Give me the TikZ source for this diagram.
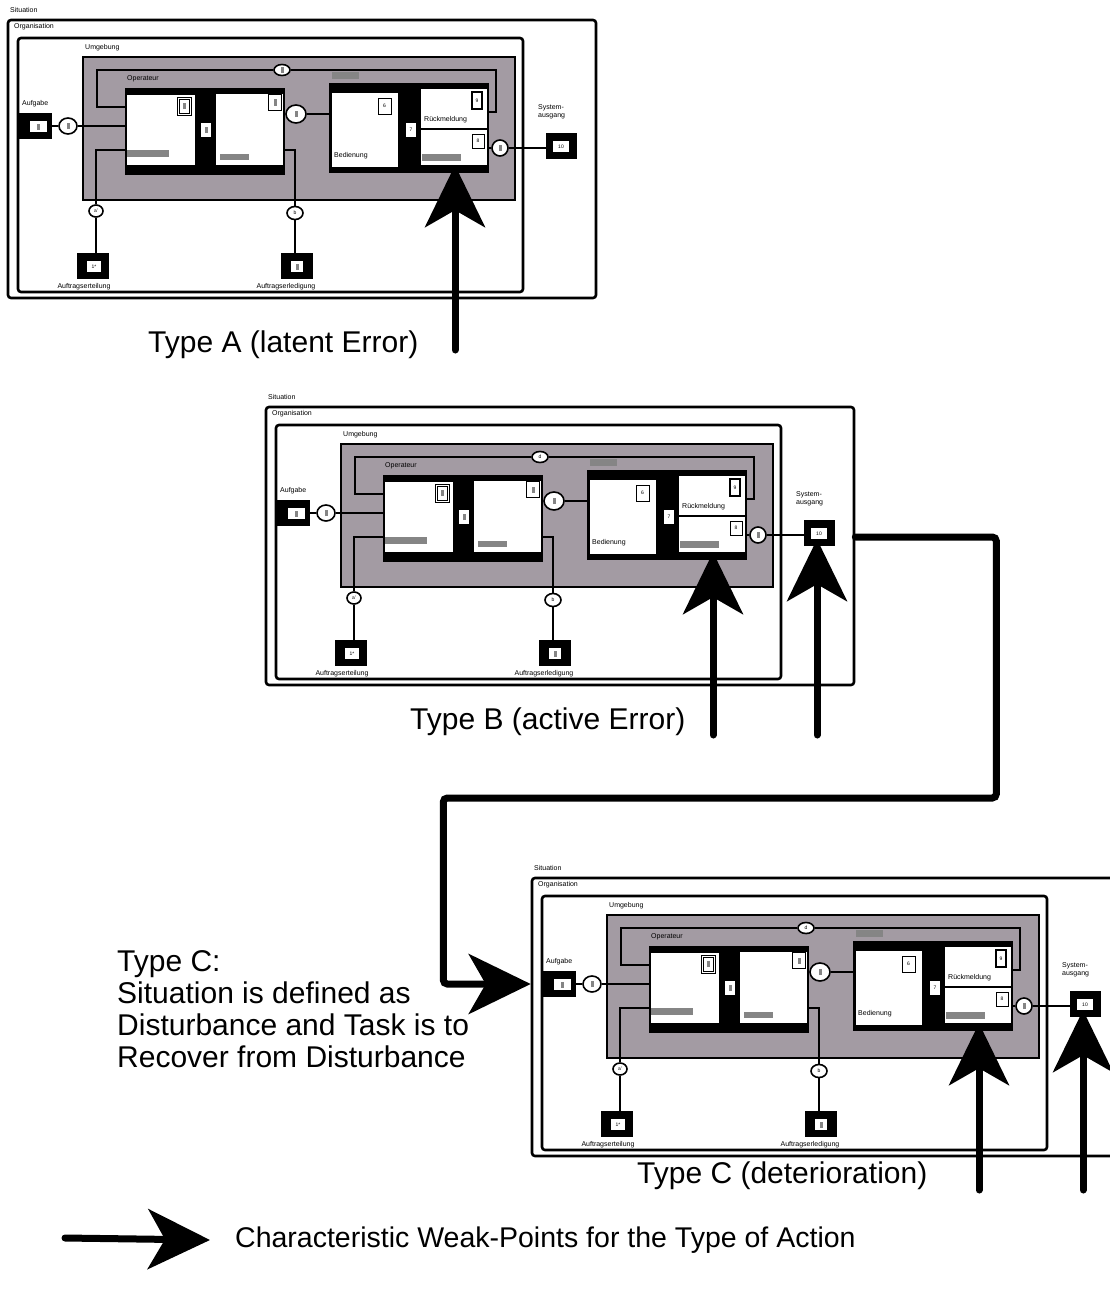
\documentclass[tikz,border=0pt]{standalone}
\usepackage{fontspec}
\setmainfont{Liberation Sans}
\usepackage{xcolor}
\usepackage{tikz}
\usetikzlibrary{arrows.meta, calc, shapes.geometric}
\definecolor{umgebung}{HTML}{A39BA3}
\definecolor{greekgrey}{HTML}{858585}
\newcommand{\smalltxt}{\fontsize{7}{8}\selectfont}
\newcommand{\numtxt}{\fontsize{5}{6}\selectfont}
\newcommand{\bigtxt}{\fontsize{30}{32}\selectfont}
\newcommand{\gm}{\textcolor{greekgrey}{\rule{3pt}{6pt}}}

% One situation panel (coordinates in pixels, y downwards)
\newcommand{\panel}[1]{%
  % Frames: Situation, Organisation, Umgebung
  \node[lbl] (lsit) at (10,10) {Situation};
  \node[frame, minimum width=588pt, minimum height=278pt] (sit) at (302,159) {};
  \node[lbl] (lorg) at (14,27) {Organisation};
  \node[frame, minimum width=505pt, minimum height=254pt] (org) at (270.5,165) {};
  \node[lbl] (lenv) at (85,48) {Umgebung};
  \node[env, minimum width=432pt, minimum height=143pt] (env) at (299,128.5) {};
  \node[bar, minimum width=27pt, minimum height=7pt] (envbar) at (345.5,75.5) {};
  % Operateur
  \node[lbl] (lop) at (127,79) {Operateur};
  \node[blk, minimum width=160pt, minimum height=87pt] (op) at (205,131.5) {};
  \node[wbox, minimum width=68pt, minimum height=70pt] (opl) at (161,130) {};
  \node[wbox, minimum width=67pt, minimum height=71pt] (opr) at (249.5,129.5) {};
  \node[wbox, minimum width=10pt, minimum height=14pt] (opm) at (206,130) {\gm};
  \node[tagbox, double, double distance=1pt, minimum width=12pt, minimum height=16pt] (iconl) at (184,106) {\gm};
  \node[tagbox, line width=1.6pt, minimum width=13pt, minimum height=16pt] (iconr) at (275,102.5) {\gm};
  \node[bar, minimum width=42pt, minimum height=7pt] (barl) at (148,153.5) {};
  \node[bar, minimum width=29pt, minimum height=6pt] (barr) at (234.5,156.5) {};
  % Bedienung / Rueckmeldung
  \node[blk, minimum width=160pt, minimum height=90pt] (bed) at (409,128) {};
  \node[wbox, minimum width=66pt, minimum height=74pt] (bedw) at (365,130) {};
  \node[lbl] (lbed) at (334,156) {Bedienung};
  \node[tagbox, minimum width=13pt, minimum height=16pt] (six) at (384.5,106) {6};
  \node[wbox, font=\numtxt, minimum width=10pt, minimum height=14pt] (seven) at (411,130) {7};
  \node[wbox, minimum width=66pt, minimum height=39pt] (rueck) at (454,108.5) {};
  \node[lbl] (lrueck) at (424,120) {Rückmeldung};
  \node[tagbox, line width=2pt, minimum width=10pt, minimum height=17pt] (nine) at (477,100.5) {9};
  \node[wbox, minimum width=66pt, minimum height=35pt] (low) at (454,147.5) {};
  \node[tagbox, minimum width=12pt, minimum height=14pt] (eight) at (478,141) {8};
  \node[bar, minimum width=39pt, minimum height=7pt] (barb) at (441.5,157.5) {};
  % Inputs and outputs
  \node[lbl] (laufg) at (22,104) {Aufgabe};
  \node[blk, minimum width=33pt, minimum height=26pt] (aufg) at (35.5,126) {};
  \node[wbox, minimum width=17pt, minimum height=11pt] (aufgin) at (38.5,126.5) {\gm};
  \node[lbl, align=left] (lsys) at (538,112) {System-\\ausgang};
  \node[blk, minimum width=31pt, minimum height=26pt] (sysout) at (561.5,146) {};
  \node[wbox, font=\numtxt, minimum width=16pt, minimum height=11pt] (sysin) at (561,146.5) {10};
  \node[blk, minimum width=32pt, minimum height=26pt] (erteil) at (93,266) {};
  \node[wbox, font=\numtxt, minimum width=14pt, minimum height=11pt] (erteilin) at (94,266.5) {1*};
  \node[lbl, anchor=center] (lerteil) at (84,287) {Auftragserteilung};
  \node[blk, minimum width=32pt, minimum height=26pt] (erled) at (297,266) {};
  \node[wbox, minimum width=12pt, minimum height=11pt] (erledin) at (297,266.5) {\gm};
  \node[lbl, anchor=center] (lerled) at (286,287) {Auftragserledigung};
  % Connection points
  \node[knot, minimum width=18pt, minimum height=16pt] (kaufg) at (68,126) {\gm};
  \node[knot, minimum width=16pt, minimum height=11pt] (ktop) at (282,70) {#1};
  \node[knot, minimum width=20pt, minimum height=18pt] (kop) at (296,114) {\gm};
  \node[knot, minimum width=16pt, minimum height=16pt] (klow) at (500,148) {\gm};
  \node[knot, minimum width=14pt, minimum height=12pt] (ka) at (96,211) {a'};
  \node[knot, minimum width=16pt, minimum height=13pt] (kb) at (295,213) {b};
  \coordinate (fa) at (97,107);
  \coordinate (fb) at (496,112);
  % Wires
  \draw[wire] (aufg.east) -- (kaufg.west);
  \draw[wire] (kaufg.east) -- (kaufg -| op.west);
  \draw[wire] (fa -| op.west) -- (fa) |- (ktop.west);
  \draw[wire] (ktop.east) -| (fb) -- (fb -| bed.east);
  \draw[wire] ([yshift=-18.5pt]op.west) -| (ka.north);
  \draw[wire] (ka.south) -- (ka.south |- erteil.north);
  \draw[wire] ([yshift=-20.5pt]opr.east) -| (kb.north);
  \draw[wire] (kb.south) -- (kb.south |- erled.north);
  \draw[wire] (kop.east) -- (kop -| bed.west);
  \draw[wire] (klow -| bed.east) -- (klow.west);
  \draw[wire] (klow.east) -- (klow -| sysout.west);
}

\begin{document}
\begin{tikzpicture}[
  x=1pt, y=-1pt,
  lbl/.style={font=\smalltxt, inner sep=0pt, anchor=west},
  frame/.style={draw, line width=2.6pt, rounded corners=3pt, inner sep=0pt},
  env/.style={draw, line width=1.6pt, fill=umgebung, inner sep=0pt},
  blk/.style={fill=black, inner sep=0pt},
  wbox/.style={fill=white, inner sep=0pt},
  tagbox/.style={draw, line width=1pt, fill=white, inner sep=0pt, font=\numtxt},
  bar/.style={fill=greekgrey, inner sep=0pt},
  knot/.style={draw, ellipse, fill=white, line width=1.6pt, inner sep=0pt, font=\numtxt},
  wire/.style={line width=1.6pt},
  weak/.style={line width=7pt, line cap=round, -{Stealth[length=62pt, width=60pt, inset=17pt]}},
  big/.style={font=\bigtxt, inner sep=0pt, anchor=west}
]
\useasboundingbox (0,0) rectangle (1110,1314);
\clip (0,0) rectangle (1110,1314);

% Type A
\begin{scope}[shift={(0,0)}, name prefix=A-]
  \panel{\gm}
  \coordinate (foot) at (455,350);
  \draw[weak] (foot) -- (foot |- low.south);
\end{scope}
\node[big] (typeA) at (148,345) {Type A (latent Error)};

% Type B
\begin{scope}[shift={(258,387)}, name prefix=B-]
  \panel{d}
  \coordinate (foot) at (455,348);
  \coordinate (footsys) at (559,348);
  \draw[weak] (foot) -- (foot |- low.south);
  \draw[weak] (footsys) -- (footsys |- sysin.south);
\end{scope}
\node[big] (typeB) at (410,722) {Type B (active Error)};

% Type C
\begin{scope}[shift={(524,858)}, name prefix=C-]
  \panel{d}
  \coordinate (foot) at (455,332);
  \coordinate (footsys) at (559,332);
  \draw[weak] (foot) -- (foot |- low.south);
  \draw[weak] (footsys) -- (footsys |- sysin.south);
\end{scope}
\node[big] (typeC) at (637,1176) {Type C (deterioration)};
\node[big, anchor=north west, align=left] (typeCdef) at (117,950)
  {Type C:\\Situation is defined as\\Disturbance and Task is to\\Recover from Disturbance};

% Disturbance from B's system output becomes C's task
\draw[weak, rounded corners=4pt] ($(B-sysout -| B-sit.east)+(0,4)$) -- ++(141,0) -- ++(0,261)
  -- ++(-553,0) |- (C-aufg -| C-sit.west);

% Legend
\node[big, font=\fontsize{28.5}{30}\selectfont] (legend) at (235,1240) {Characteristic Weak-Points for the Type of Action};
\coordinate (legtail) at (65,1238);
\draw[weak] (legtail) -- ([xshift=-25pt]legend.west);

\end{tikzpicture}
\end{document}
